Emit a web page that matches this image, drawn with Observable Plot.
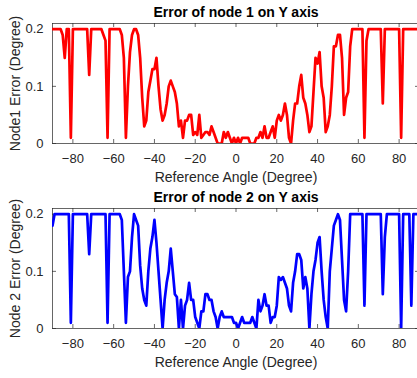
<!DOCTYPE html>
<html><head><meta charset="utf-8">
<script src="https://cdn.jsdelivr.net/npm/d3@7"></script>
<script src="https://cdn.jsdelivr.net/npm/@observablehq/plot@0.6"></script>
<style>
html,body{margin:0;padding:0;background:#fff;overflow:hidden;}
#chart svg{display:block;}
</style></head><body><div id="chart"></div>
<script>
const angles = d3.range(-90, 91, 1);
const node1Error = [
  0.2,0.2,0.2,0.2,0.2,0.19,0.15,0.2,0.2,0.01,
  0.2,0.2,0.2,0.2,0.2,0.2,0.2,0.2,0.12,0.2,
  0.2,0.2,0.2,0.2,0.2,0.19,0.18,0.01,0.2,0.2,
  0.2,0.2,0.2,0.2,0.19,0.15,0.01,0.1,0.16,0.19,
  0.2,0.2,0.19,0.15,0.08,0.03,0.04,0.09,0.11,0.13,
  0.13,0.15,0.1,0.06,0.04,0.05,0.07,0.1,0.11,0.1,
  0.09,0.07,0.03,0.04,0.01,0.04,0.04,0.05,0.05,0.015,
  0.02,0.015,0.05,0.01,0.015,0.02,0.02,0.015,0.03,0.02,
  0.01,0,0,0,0.02,0.01,0.02,0.01,0,0.01,
  0,0.01,0,0.01,0.01,0.01,0.01,0,0,0,
  0.01,0.01,0.02,0.01,0.03,0.01,0.01,0.02,0.03,0.01,
  0.04,0.05,0.04,0.05,0.07,0.05,0.01,0,0.04,0.07,
  0.07,0.1,0.12,0.08,0.07,0.05,0.02,0.03,0.09,0.15,
  0.14,0.16,0.1,0.08,0.02,0.03,0.05,0.1,0.17,0.17,
  0.19,0.19,0.15,0.05,0.08,0.09,0.17,0.2,0.2,0.2,
  0.2,0.2,0.2,0.01,0.18,0.2,0.2,0.2,0.2,0.2,
  0.2,0.2,0.07,0.2,0.2,0.2,0.2,0.2,0.2,0.2,
  0.2,0.01,0.2,0.2,0.2,0.2,0.2,0.2,0.2,0.2,0.2
];
const node2Error = [
  0.18,0.2,0.2,0.2,0.2,0.2,0.2,0.2,0.2,0.01,
  0.2,0.2,0.2,0.2,0.2,0.2,0.2,0.2,0.13,0.2,
  0.2,0.2,0.2,0.2,0.2,0.2,0.2,0.01,0.2,0.2,
  0.2,0.2,0.2,0.2,0.19,0.1,0.01,0.09,0.1,0.16,
  0.2,0.19,0.18,0.11,0.07,0.05,0.04,0.1,0.14,0.16,
  0.19,0.15,0.1,0.05,0,0.05,0.08,0.1,0.14,0.1,
  0.06,0.055,0,0.05,0,0.04,0.05,0.08,0.05,0.05,
  0.02,0.01,0,0.03,0.03,0.06,0.06,0.05,0.05,0.03,
  0.02,0,0.02,0.03,0.02,0.02,0.02,0.02,0.02,0.01,
  0.01,0,0.01,0.02,0.01,0.01,0.01,0.01,0.02,0.01,
  0,0.05,0.03,0.04,0.06,0.04,0.04,0.01,0.02,0.02,
  0.04,0.09,0.085,0.09,0.08,0.07,0.04,0.03,0.08,0.1,
  0.13,0.13,0.12,0.07,0.09,0.07,0,0.06,0.1,0.12,
  0.15,0.16,0.1,0.05,0.02,0,0.1,0.14,0.18,0.19,
  0.2,0.19,0.12,0.05,0.03,0.1,0.2,0.2,0.2,0.2,
  0.2,0.2,0.2,0.04,0.2,0.2,0.2,0.2,0.2,0.2,
  0.2,0.2,0.06,0.16,0.2,0.2,0.2,0.2,0.2,0.2,
  0.2,0,0.2,0.2,0.2,0.2,0.04,0.2,0.2,0.2,0.2
];
const xTicks = [-80, -60, -40, -20, 0, 20, 40, 60, 80];
const yTicks = [0, 0.1, 0.2];
const yTickLabels = ["0", "0.1", "0.2"];
const titles = ["Error of node 1 on Y axis", "Error of node 2 on Y axis"];
const yLabels = ["Node1 Error (Degree)", "Node 2 Error (Degree)"];
const xLabel = "Reference Angle (Degree)";
const colors = ["#ff0000", "#0000ff"];

function panel(values, title, ylabel, color, height, marginBottom) {
  const W = 417, mL = 52, mR = -2, mT = 23;
  const fw = W - mL - mR;
  const fh = height - mT - marginBottom;
  const data = angles.map((a, i) => ({angle: a, err: values[i]}));
  const axisColor = "#262626";
  return Plot.plot({
    width: W, height,
    marginLeft: mL, marginRight: mR, marginTop: mT, marginBottom,
    style: {fontFamily: "'Liberation Sans', Arial, sans-serif", fontSize: "13px", color: axisColor, background: "white"},
    x: {domain: [-90, 90], ticks: xTicks},
    y: {domain: [0, 0.21], ticks: yTicks},
    marks: [
      Plot.frame({stroke: axisColor, strokeWidth: 0.7}),
      Plot.tickX(xTicks, {x: d => d, insetTop: fh - 4, stroke: axisColor, strokeWidth: 0.7}),
      Plot.tickX(xTicks, {x: d => d, insetBottom: fh - 4, stroke: axisColor, strokeWidth: 0.7}),
      Plot.tickY(yTicks, {y: d => d, insetRight: fw - 4, stroke: axisColor, strokeWidth: 0.7}),
      Plot.tickY(yTicks, {y: d => d, insetLeft: fw - 4, stroke: axisColor, strokeWidth: 0.7}),
      Plot.axisX(xTicks, {tickSize: 0, tickPadding: 10, label: null, fill: axisColor}),
      Plot.axisY(yTicks, {tickSize: 0, tickPadding: 9, label: null, fill: axisColor,
        tickFormat: d => yTickLabels[yTicks.indexOf(d)]}),
      Plot.lineY(data, {x: "angle", y: "err", stroke: color, strokeWidth: 2.7, clip: true}),
      Plot.text([title], {text: d => d, frameAnchor: "top", lineAnchor: "middle", textAnchor: "middle",
        dy: -10.5, fontWeight: "bold", fontSize: 14, fill: "black"}),
      Plot.text([xLabel], {text: d => d, frameAnchor: "bottom", lineAnchor: "middle", textAnchor: "middle",
        dy: 34, fontSize: 14, fill: axisColor}),
      Plot.text([ylabel], {text: d => d, frameAnchor: "left", lineAnchor: "middle", textAnchor: "middle",
        dx: -37, rotate: -90, fontSize: 14, fill: axisColor})
    ]
  });
}

const root = document.getElementById("chart");
root.appendChild(panel(node1Error, titles[0], yLabels[0], colors[0], 185, 42));
root.appendChild(panel(node2Error, titles[1], yLabels[1], colors[1], 193, 50));
</script>
</body></html>
